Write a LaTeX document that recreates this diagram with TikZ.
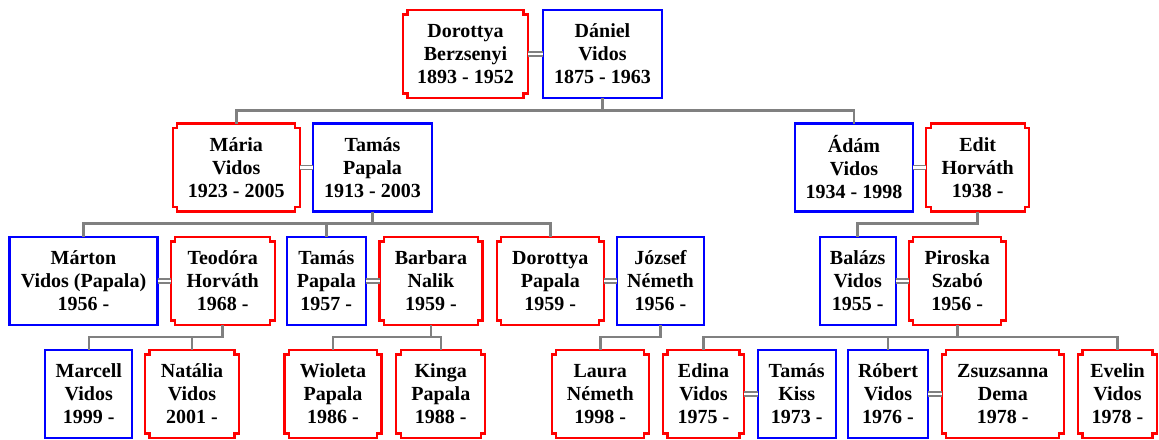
\documentclass[tikz,border=0pt]{standalone}
\usepackage{fontspec}
\setmainfont{Liberation Serif}

\begin{document}
\begin{tikzpicture}[x=1pt,y=-1pt]
	\tikzstyle{person}=[rectangle, inner sep=0pt, outer sep=0pt, minimum height=88pt, align=center, font=\bfseries\fontsize{20}{23}\selectfont]
	\tikzstyle{male}=[person, draw=blue, line width=2.2pt]
	\tikzstyle{female}=[person, append after command={\pgfextra{
		\draw[red, line width=2.2pt, line join=miter]
			([xshift=4.5pt]\tikzlastnode.north west) -- ([xshift=-4.5pt]\tikzlastnode.north east)
			-- ([xshift=-4.5pt,yshift=-4.5pt]\tikzlastnode.north east) -- ([yshift=-4.5pt]\tikzlastnode.north east)
			-- ([yshift=4.5pt]\tikzlastnode.south east) -- ([xshift=-4.5pt,yshift=4.5pt]\tikzlastnode.south east)
			-- ([xshift=-4.5pt]\tikzlastnode.south east) -- ([xshift=4.5pt]\tikzlastnode.south west)
			-- ([xshift=4.5pt,yshift=4.5pt]\tikzlastnode.south west) -- ([yshift=4.5pt]\tikzlastnode.south west)
			-- ([yshift=-4.5pt]\tikzlastnode.north west) -- ([xshift=4.5pt,yshift=-4.5pt]\tikzlastnode.north west)
			-- cycle;}}]
	\tikzstyle{marriage}=[draw=gray, line width=1.7pt, double=white, double distance=2.4pt]
	\tikzstyle{link}=[draw=gray, line width=2.5pt]

	\useasboundingbox (0,0) rectangle (1159,439);

	\node[female, minimum width=125pt](dorottyaB) at (465.5,54) {Dorottya\\Berzsenyi\\1893 - 1952};
	\node[male, minimum width=119pt](daniel) at (602.5,54) {Dániel\\Vidos\\1875 - 1963};

	\node[female, minimum width=127pt](maria) at (236.3,167.5) {Mária\\Vidos\\1923 - 2005};
	\node[male, minimum width=119pt](tamasP) at (372.5,167.5) {Tamás\\Papala\\1913 - 2003};
	\node[male, minimum width=118pt](adam) at (854,167.5) {Ádám\\Vidos\\1934 - 1998};
	\node[female, minimum width=103pt](edit) at (977.7,167.5) {Edit\\Horváth\\1938 -};

	\node[male, minimum width=148pt](marton) at (83.5,281) {Márton\\Vidos (Papala)\\1956 -};
	\node[female, minimum width=104pt](teodora) at (222.7,281) {Teodóra\\Horváth\\1968 -};
	\node[male, minimum width=79pt](tamas57) at (326.3,281) {Tamás\\Papala\\1957 -};
	\node[female, minimum width=103pt](barbara) at (431,281) {Barbara\\Nalik\\1959 -};
	\node[female, minimum width=107pt](dorottyaP) at (550.3,281) {Dorottya\\Papala\\1959 -};
	\node[male, minimum width=87pt](jozsef) at (660.5,281) {József\\Németh\\1956 -};
	\node[male, minimum width=76pt](balazs) at (857.7,281) {Balázs\\Vidos\\1955 -};
	\node[female, minimum width=97pt](piroska) at (957.3,281) {Piroska\\Szabó\\1956 -};

	\node[male, minimum width=87pt](marcell) at (88.8,394) {Marcell\\Vidos\\1999 -};
	\node[female, minimum width=94pt](natalia) at (192,394) {Natália\\Vidos\\2001 -};
	\node[female, minimum width=97pt](wioleta) at (333,394) {Wioleta\\Papala\\1986 -};
	\node[female, minimum width=89pt](kinga) at (440.8,394) {Kinga\\Papala\\1988 -};
	\node[female, minimum width=97pt](laura) at (600.3,394) {Laura\\Németh\\1998 -};
	\node[female, minimum width=81pt](edina) at (703.5,394) {Edina\\Vidos\\1975 -};
	\node[male, minimum width=78pt](tamasK) at (796.7,394) {Tamás\\Kiss\\1973 -};
	\node[male, minimum width=80pt](robert) at (888,394) {Róbert\\Vidos\\1976 -};
	\node[female, minimum width=122pt](zsuzsanna) at (1002.8,394) {Zsuzsanna\\Dema\\1978 -};
	\node[female, minimum width=79pt](evelin) at (1117.5,394) {Evelin\\Vidos\\1978 -};

	\draw[marriage] (dorottyaB) -- (daniel);
	\draw[marriage] (maria) -- (tamasP);
	\draw[marriage] (adam) -- (edit);
	\draw[marriage] (marton) -- (teodora);
	\draw[marriage] (tamas57) -- (barbara);
	\draw[marriage] (dorottyaP) -- (jozsef);
	\draw[marriage] (balazs) -- (piroska);
	\draw[marriage] (edina) -- (tamasK);
	\draw[marriage] (robert) -- (zsuzsanna);

	\draw[link] (daniel.south) -- ++(0,12.5) -| (maria.north);
	\draw[link] (daniel.south) -- ++(0,12.5) -| (adam.north);
	\draw[link] (tamasP.south) -- ++(0,12) -| (marton.north);
	\draw[link] (tamasP.south) -- ++(0,12) -| (tamas57.north);
	\draw[link] (tamasP.south) -- ++(0,12) -| (dorottyaP.north);
	\draw[link] (edit.south) -- ++(0,12) -| (balazs.north);
	\draw[link] (teodora.south) -- ++(0,12) -| (marcell.north);
	\draw[link] (teodora.south) -- ++(0,12) -| (natalia.north);
	\draw[link] (barbara.south) -- ++(0,12) -| (wioleta.north);
	\draw[link] (barbara.south) -- ++(0,12) -| (kinga.north);
	\draw[link] (jozsef.south) -- ++(0,12) -| (laura.north);
	\draw[link] (piroska.south) -- ++(0,12) -| (edina.north);
	\draw[link] (piroska.south) -- ++(0,12) -| (robert.north);
	\draw[link] (piroska.south) -- ++(0,12) -| (evelin.north);
\end{tikzpicture}
\end{document}
